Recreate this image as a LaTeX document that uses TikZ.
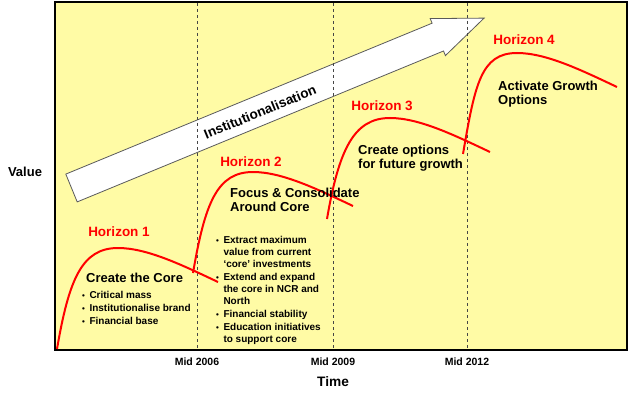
\documentclass[tikz,border=0pt]{standalone}
\usepackage{fontspec}
\setmainfont{Liberation Sans}
\usetikzlibrary{positioning}

\definecolor{paleyellow}{RGB}{255,251,165}
\definecolor{darkdash}{RGB}{70,70,70}
\definecolor{arrowgray}{RGB}{90,90,90}
\newcommand{\dotmark}{{\fontsize{8}{8}\selectfont\textbullet}}

\begin{document}
\begin{tikzpicture}[
    x=1pt, y=-1pt, inner sep=0pt,
    horizon/.style={text=red, font=\bfseries\fontsize{13.5}{16}\selectfont},
    heading/.style={anchor=west, align=left, font=\bfseries\fontsize{13}{14}\selectfont},
    bullets/.style={anchor=west, font=\bfseries\fontsize{10}{12}\selectfont},
    axislabel/.style={font=\bfseries\fontsize{10.5}{12}\selectfont},
    divider/.style={darkdash, line width=1pt, dash pattern=on 3pt off 3pt},
    growth/.style={red, line width=2pt}
]
    \useasboundingbox (0,0) rectangle (631,393);
    \draw[fill=paleyellow, line width=2pt] (54.5,2) rectangle (626.5,349.5);
    \draw[line width=1pt] (55,350.8) -- (627.8,350.8) -- (627.8,3);

    \draw[arrowgray, fill=white, line width=0.8pt]
        (65.8,174.1) -- (432.1,23.2) -- (430.2,18.6) -- (484.1,18.1)
        -- (445.4,55.6) -- (443.5,51.0) -- (77.2,201.9) -- cycle;

    \foreach \xm/\yr in {197/2006, 333/2009, 467/2012} {
        \draw[divider] (\xm,3) -- (\xm,348);
        \node[axislabel] (mid\yr) at (\xm,362) {Mid \yr};
    }

    \node[rotate=22.4, font=\bfseries\fontsize{13.5}{16}\selectfont] (inst) at (260,112) {Institutionalisation};

    \foreach \sx/\sy/\px in {57/349/61, 193/273/60, 327/219/63, 463/154/54}
        \draw[growth] (\sx,\sy) .. controls +(12,-70) and +(-36,0) .. ++(\px,-101)
            .. controls +(29,0) and +(-36,-17) .. ++(100,34);

    \node[font=\bfseries\fontsize{13}{15}\selectfont] (value) at (25,172) {Value};
    \node[font=\bfseries\fontsize{13.7}{16}\selectfont, below=10pt of mid2009] (time) {Time};

    \node[horizon] (h1) at (119,232) {Horizon 1};
    \node[horizon] (h2) at (251,162) {Horizon 2};
    \node[horizon] (h3) at (382,106) {Horizon 3};
    \node[horizon] (h4) at (524,40) {Horizon 4};

    \node[heading] (core) at (86,278) {Create the Core};
    \node[heading] (focus) at (230,200) {Focus \& Consolidate\\Around Core};
    \node[heading] (options) at (358,158) {Create options\\for future growth};
    \node[heading] (activate) at (498,94) {Activate Growth\\Options};

    \node[bullets] (corelist) at (82,309) {\begin{tabular}{@{}l@{\hspace{4.5pt}}l@{}}
        \dotmark & Critical mass\\[1pt]
        \dotmark & Institutionalise brand\\[1pt]
        \dotmark & Financial base
    \end{tabular}};
    \node[bullets] (focuslist) at (216,291) {\begin{tabular}{@{}l@{\hspace{4.5pt}}l@{}}
        \dotmark & Extract maximum\\
                 & value from current\\
                 & ‘core’ investments\\[1pt]
        \dotmark & Extend and expand\\
                 & the core in NCR and\\
                 & North\\[1pt]
        \dotmark & Financial stability\\[1pt]
        \dotmark & Education initiatives\\
                 & to support core
    \end{tabular}};
\end{tikzpicture}
\end{document}
